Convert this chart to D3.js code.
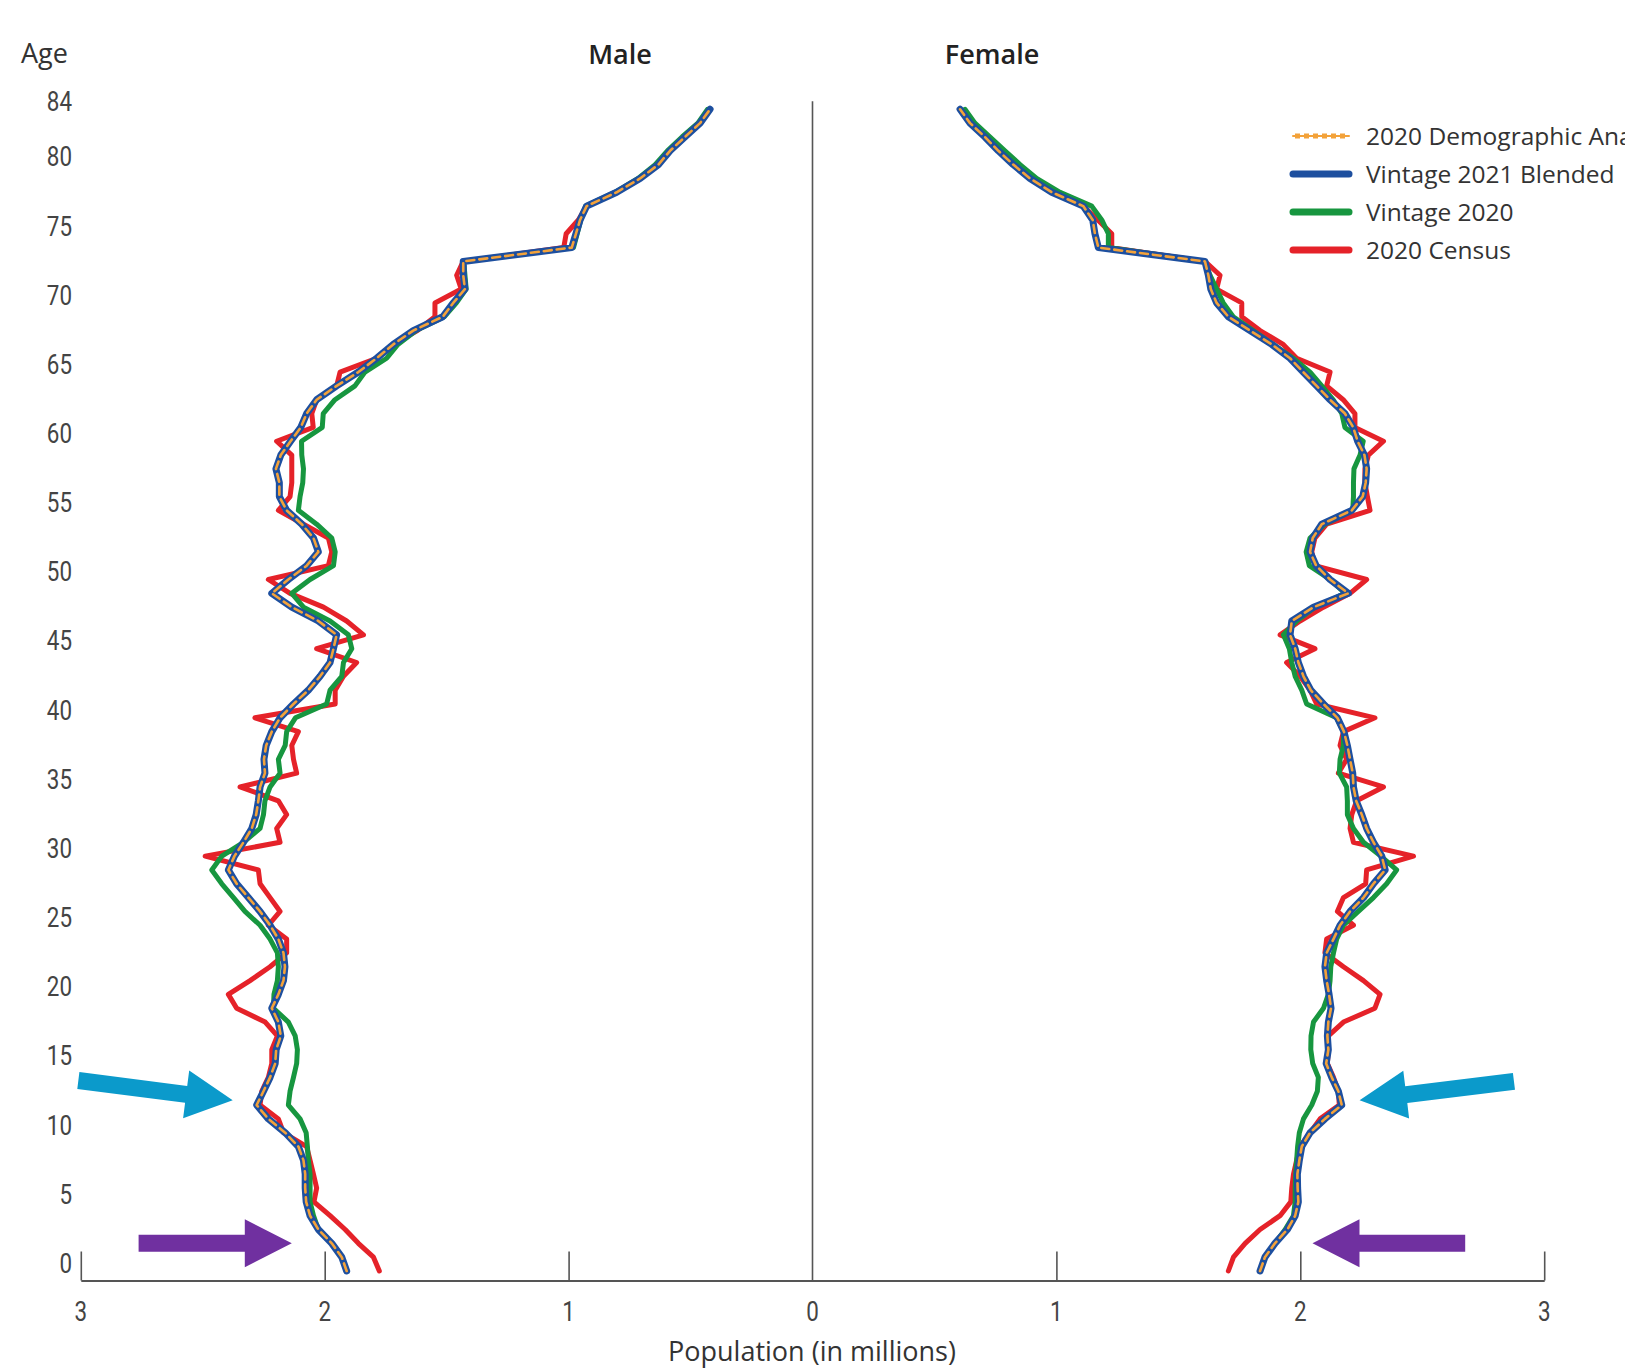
<!DOCTYPE html>
<html>
<head>
<meta charset="utf-8">
<script src="https://cdn.jsdelivr.net/npm/d3@7/dist/d3.min.js"></script>
<style>
  body { margin: 0; background: #fff; }
  svg { display: block; }
</style>
</head>
<body>
<svg id="chart" width="1625" height="1370"></svg>
<script>
// ages 0..84, one value per single year of age (millions)
var ages = d3.range(0, 85);
var ageTicks = [0, 5, 10, 15, 20, 25, 30, 35, 40, 45, 50, 55, 60, 65, 70, 75, 80, 84];
var maleTicks = [0, 1, 2, 3];
var femaleTicks = [1, 2, 3];
var seriesNames = ['2020 Demographic Analysis', 'Vintage 2021 Blended', 'Vintage 2020', '2020 Census'];

var maleDemographic = [1.910, 1.930, 1.971, 2.026, 2.060, 2.076, 2.080, 2.080, 2.087, 2.108,
  2.162, 2.231, 2.279, 2.251, 2.224, 2.203, 2.199, 2.180, 2.190, 2.217,
  2.190, 2.169, 2.163, 2.169, 2.190, 2.224, 2.265, 2.313, 2.361, 2.395,
  2.370, 2.333, 2.299, 2.281, 2.272, 2.265, 2.245, 2.249, 2.240, 2.217,
  2.183, 2.128, 2.067, 2.019, 1.978, 1.964, 1.951, 2.026, 2.135, 2.217,
  2.149, 2.074, 2.026, 2.046, 2.094, 2.156, 2.186, 2.186, 2.200, 2.180,
  2.140, 2.098, 2.074, 2.033, 1.951, 1.862, 1.787, 1.719, 1.637, 1.516,
  1.473, 1.425, 1.432, 1.432, 0.987, 0.970, 0.953, 0.926, 0.803, 0.707,
  0.632, 0.584, 0.523, 0.461, 0.420];
var maleBlended = [1.910, 1.930, 1.971, 2.026, 2.060, 2.076, 2.080, 2.080, 2.087, 2.108,
  2.162, 2.231, 2.279, 2.251, 2.224, 2.203, 2.199, 2.180, 2.190, 2.217,
  2.190, 2.169, 2.163, 2.169, 2.190, 2.224, 2.265, 2.313, 2.361, 2.395,
  2.370, 2.333, 2.299, 2.281, 2.272, 2.265, 2.245, 2.249, 2.240, 2.217,
  2.183, 2.128, 2.067, 2.019, 1.978, 1.964, 1.951, 2.026, 2.135, 2.217,
  2.149, 2.074, 2.026, 2.046, 2.094, 2.156, 2.186, 2.186, 2.200, 2.180,
  2.140, 2.098, 2.074, 2.033, 1.951, 1.862, 1.787, 1.719, 1.637, 1.516,
  1.473, 1.425, 1.432, 1.432, 0.987, 0.970, 0.953, 0.926, 0.803, 0.707,
  0.632, 0.584, 0.523, 0.461, 0.420];
var maleV2020 = [1.910, 1.930, 1.971, 2.026, 2.046, 2.060, 2.060, 2.060, 2.067, 2.071,
  2.076, 2.101, 2.149, 2.142, 2.128, 2.115, 2.112, 2.121, 2.149, 2.210,
  2.208, 2.194, 2.190, 2.194, 2.224, 2.265, 2.327, 2.374, 2.422, 2.463,
  2.422, 2.333, 2.265, 2.251, 2.245, 2.224, 2.183, 2.190, 2.162, 2.156,
  2.120, 1.992, 1.978, 1.930, 1.923, 1.889, 1.903, 1.978, 2.087, 2.135,
  2.060, 1.964, 1.957, 1.971, 2.033, 2.108, 2.101, 2.090, 2.087, 2.094,
  2.095, 2.010, 2.006, 1.958, 1.876, 1.835, 1.746, 1.700, 1.625, 1.510,
  1.460, 1.420, 1.425, 1.430, 0.980, 0.965, 0.950, 0.930, 0.810, 0.715,
  0.645, 0.595, 0.535, 0.470, 0.430];
var maleCensus = [1.776, 1.800, 1.862, 1.916, 1.978, 2.044, 2.033, 2.046, 2.060, 2.074,
  2.169, 2.190, 2.265, 2.258, 2.231, 2.217, 2.217, 2.194, 2.244, 2.361,
  2.395, 2.306, 2.224, 2.156, 2.156, 2.231, 2.183, 2.224, 2.265, 2.272,
  2.490, 2.183, 2.197, 2.156, 2.190, 2.347, 2.115, 2.128, 2.135, 2.108,
  2.286, 1.957, 1.957, 1.923, 1.869, 2.033, 1.841, 1.910, 2.005, 2.142,
  2.231, 1.985, 1.971, 1.985, 2.087, 2.190, 2.142, 2.135, 2.135, 2.135,
  2.197, 2.047, 2.053, 2.033, 1.951, 1.937, 1.787, 1.719, 1.620, 1.548,
  1.548, 1.440, 1.459, 1.432, 1.020, 1.010, 0.960, 0.926, 0.803, 0.707,
  0.632, 0.584, 0.523, 0.461, 0.420];

var femaleDemographic = [1.835, 1.855, 1.896, 1.947, 1.979, 1.992, 1.989, 1.988, 1.996, 2.006,
  2.040, 2.101, 2.170, 2.156, 2.129, 2.106, 2.115, 2.111, 2.115, 2.126,
  2.118, 2.108, 2.101, 2.108, 2.136, 2.163, 2.204, 2.259, 2.300, 2.348,
  2.334, 2.300, 2.272, 2.252, 2.229, 2.218, 2.215, 2.204, 2.193, 2.179,
  2.152, 2.095, 2.043, 2.013, 1.992, 1.979, 1.958, 1.965, 2.054, 2.197,
  2.122, 2.065, 2.040, 2.051, 2.088, 2.211, 2.256, 2.268, 2.272, 2.263,
  2.235, 2.217, 2.183, 2.122, 2.067, 2.012, 1.958, 1.883, 1.794, 1.705,
  1.657, 1.633, 1.623, 1.609, 1.172, 1.158, 1.149, 1.110, 0.981, 0.892,
  0.823, 0.762, 0.707, 0.646, 0.605];
var femaleBlended = [1.835, 1.855, 1.896, 1.947, 1.979, 1.992, 1.989, 1.988, 1.996, 2.006,
  2.040, 2.101, 2.170, 2.156, 2.129, 2.106, 2.115, 2.111, 2.115, 2.126,
  2.118, 2.108, 2.101, 2.108, 2.136, 2.163, 2.204, 2.259, 2.300, 2.348,
  2.334, 2.300, 2.272, 2.252, 2.229, 2.218, 2.215, 2.204, 2.193, 2.179,
  2.152, 2.095, 2.043, 2.013, 1.992, 1.979, 1.958, 1.965, 2.054, 2.197,
  2.122, 2.065, 2.040, 2.051, 2.088, 2.211, 2.256, 2.268, 2.272, 2.263,
  2.235, 2.217, 2.183, 2.122, 2.067, 2.012, 1.958, 1.883, 1.794, 1.705,
  1.657, 1.633, 1.623, 1.609, 1.172, 1.158, 1.149, 1.110, 0.981, 0.892,
  0.823, 0.762, 0.707, 0.646, 0.605];
var femaleV2020 = [1.835, 1.855, 1.896, 1.938, 1.972, 1.979, 1.979, 1.981, 1.985, 1.989,
  1.996, 2.013, 2.047, 2.070, 2.074, 2.051, 2.043, 2.044, 2.054, 2.095,
  2.115, 2.122, 2.125, 2.136, 2.149, 2.177, 2.238, 2.300, 2.354, 2.395,
  2.330, 2.259, 2.218, 2.193, 2.193, 2.190, 2.160, 2.163, 2.177, 2.177,
  2.149, 2.026, 2.006, 1.979, 1.965, 1.955, 1.931, 1.985, 2.060, 2.184,
  2.122, 2.037, 2.024, 2.040, 2.101, 2.215, 2.218, 2.218, 2.220, 2.245,
  2.258, 2.183, 2.170, 2.135, 2.088, 2.040, 1.971, 1.889, 1.807, 1.725,
  1.684, 1.657, 1.630, 1.609, 1.213, 1.213, 1.186, 1.145, 1.015, 0.919,
  0.851, 0.789, 0.728, 0.666, 0.625];
var femaleCensus = [1.705, 1.726, 1.774, 1.835, 1.917, 1.961, 1.965, 1.972, 1.985, 1.999,
  2.040, 2.081, 2.160, 2.156, 2.136, 2.111, 2.115, 2.115, 2.177, 2.306,
  2.327, 2.259, 2.177, 2.101, 2.108, 2.218, 2.152, 2.177, 2.268, 2.272,
  2.464, 2.218, 2.204, 2.211, 2.231, 2.341, 2.156, 2.190, 2.163, 2.177,
  2.306, 2.067, 2.040, 1.999, 1.944, 2.060, 1.917, 1.999, 2.095, 2.204,
  2.272, 2.060, 2.047, 2.060, 2.108, 2.286, 2.275, 2.265, 2.265, 2.279,
  2.341, 2.224, 2.224, 2.176, 2.108, 2.122, 1.985, 1.930, 1.835, 1.760,
  1.760, 1.657, 1.671, 1.609, 1.227, 1.227, 1.170, 1.110, 0.981, 0.892,
  0.823, 0.762, 0.707, 0.646, 0.605];

// callout arrows, [population, age] at tail and tip
var arrows = [
  {side: 'male', from: [3.01, 13.77], to: [2.377, 12.34], color: '#0b9acb'},
  {side: 'female', from: [2.876, 13.71], to: [2.243, 12.34], color: '#0b9acb'},
  {side: 'male', from: [2.763, 2.01], to: [2.135, 2.01], color: '#7030a0'},
  {side: 'female', from: [2.676, 2.01], to: [2.050, 2.01], color: '#7030a0'}
];

var colors = ['#f3a23a', '#1d4f9f', '#17963f', '#e52229'];
var widths = [2.6, 7, 5, 5];
var tickFont = '"Roboto", "Open Sans", sans-serif';
var textFont = '"Open Sans", "Lato", sans-serif';

var svg = d3.select('#chart'),
    baseY = 1280.5;

var y = d3.scaleLinear().domain([0, 84]).range([1271, 109.3]);
var xMale = d3.scaleLinear().domain([0, 3]).range([812.5, 80.8]);
var xFemale = d3.scaleLinear().domain([0, 3]).range([812.5, 1544.2]);

// narrow number labels, squeezed sideways
function narrowLabel(g, x, yy, txt, anchor) {
    g.append('text')
        .attr('transform', 'translate(' + x + ',' + yy + ') scale(0.8,1)')
        .attr('dy', '0.35em')
        .attr('text-anchor', anchor)
        .attr('fill', '#444')
        .style('font-family', tickFont)
        .style('font-size', '28px')
        .text(txt);
}

// axes
var gMale = svg.append('g')
    .attr('transform', 'translate(0,' + baseY + ')')
    .call(d3.axisBottom(xMale).tickValues(maleTicks).tickSizeInner(-29).tickSizeOuter(0).tickFormat(''));
var gFemale = svg.append('g')
    .attr('transform', 'translate(0,' + baseY + ')')
    .call(d3.axisBottom(xFemale).tickValues(femaleTicks).tickSizeInner(-29).tickSizeOuter(0).tickFormat(''));

[gMale, gFemale].forEach(function(g) {
    g.select('.domain').attr('stroke', '#555').attr('stroke-width', 2);
    g.selectAll('.tick line').attr('stroke', '#555').attr('stroke-width', 1.6);
    g.selectAll('.tick text').remove();
});
gMale.selectAll('.tick').filter(function(d) { return d === 0; }).select('line').remove();

var xLabels = svg.append('g');
maleTicks.forEach(function(d) { narrowLabel(xLabels, xMale(d), baseY + 31, d, 'middle'); });
femaleTicks.forEach(function(d) { narrowLabel(xLabels, xFemale(d), baseY + 31, d, 'middle'); });

// centre line
svg.append('line')
    .attr('x1', xMale(0)).attr('x2', xMale(0))
    .attr('y1', y(84) - 8).attr('y2', baseY)
    .attr('stroke', '#555').attr('stroke-width', 1.6);

// age labels
var yLabels = svg.append('g');
ageTicks.forEach(function(d) { narrowLabel(yLabels, 72, y(d) - 8, d, 'end'); });

// titles
svg.append('text').attr('x', 21).attr('y', 63).text('Age')
    .attr('fill', '#333').style('font-family', textFont).style('font-size', '27px');
svg.append('text').attr('x', 620).attr('y', 64).attr('text-anchor', 'middle').text('Male')
    .attr('fill', '#222').style('font-family', textFont).style('font-size', '27px').style('font-weight', 600);
svg.append('text').attr('x', 992).attr('y', 64).attr('text-anchor', 'middle').text('Female')
    .attr('fill', '#222').style('font-family', textFont).style('font-size', '27px').style('font-weight', 600);
svg.append('text').attr('x', 812).attr('y', 1361).attr('text-anchor', 'middle').text('Population (in millions)')
    .attr('fill', '#333').style('font-family', textFont).style('font-size', '27px');

// lines: census first, demographic analysis dashes on top
var sides = [
    {x: xMale, series: [maleDemographic, maleBlended, maleV2020, maleCensus]},
    {x: xFemale, series: [femaleDemographic, femaleBlended, femaleV2020, femaleCensus]}
];
var order = [3, 2, 1, 0];

sides.forEach(function(side) {
    var line = d3.line()
        .x(function(d) { return side.x(d.v); })
        .y(function(d) { return y(d.age); });
    order.forEach(function(i) {
        var pts = ages.map(function(a) { return {age: a, v: side.series[i][a]}; });
        svg.append('path')
            .datum(pts)
            .attr('fill', 'none')
            .attr('stroke', colors[i])
            .attr('stroke-width', widths[i])
            .attr('stroke-linejoin', 'round')
            .attr('stroke-linecap', 'round')
            .attr('stroke-dasharray', i === 0 ? '8,5' : null)
            .attr('d', line);
    });
});

// legend (the first label runs off the right edge, as in the original)
var legend = svg.append('g').attr('transform', 'translate(1293,136)');
var rows = legend.selectAll('g')
    .data(seriesNames)
    .enter().append('g')
    .attr('transform', function(d, i) { return 'translate(0,' + (i * 38) + ')'; });
rows.append('line')
    .attr('x1', 0).attr('x2', 56)
    .attr('stroke', function(d, i) { return colors[i]; })
    .attr('stroke-width', function(d, i) { return i === 0 ? 2 : 7; })
    .attr('stroke-linecap', 'round');
rows.filter(function(d, i) { return i === 0; }).append('line')
    .attr('x1', 2).attr('x2', 56)
    .attr('stroke', colors[0])
    .attr('stroke-width', 5)
    .attr('stroke-dasharray', '5,4');
rows.append('text')
    .attr('x', 73)
    .attr('dy', '0.35em')
    .attr('fill', '#333')
    .style('font-family', textFont)
    .style('font-size', '24.5px')
    .text(function(d) { return d; });

// arrows
function arrowPath(a) {
    var sx = a.side === 'male' ? xMale : xFemale;
    var tx = sx(a.from[0]), ty = y(a.from[1]);
    var px = sx(a.to[0]), py = y(a.to[1]);
    var len = Math.hypot(px - tx, py - ty),
        ux = (px - tx) / len, uy = (py - ty) / len,
        nx = -uy, ny = ux,
        w1 = 8.5, w2 = 24, h = 47;
    var bx = px - ux * h, by = py - uy * h;
    var pts = [
        [tx + nx * w1, ty + ny * w1], [bx + nx * w1, by + ny * w1], [bx + nx * w2, by + ny * w2],
        [px, py],
        [bx - nx * w2, by - ny * w2], [bx - nx * w1, by - ny * w1], [tx - nx * w1, ty - ny * w1]
    ];
    return 'M' + pts.map(function(p) { return p[0].toFixed(1) + ',' + p[1].toFixed(1); }).join('L') + 'Z';
}
svg.append('g').selectAll('path')
    .data(arrows)
    .enter().append('path')
    .attr('d', arrowPath)
    .attr('fill', function(d) { return d.color; });
</script>
</body>
</html>
